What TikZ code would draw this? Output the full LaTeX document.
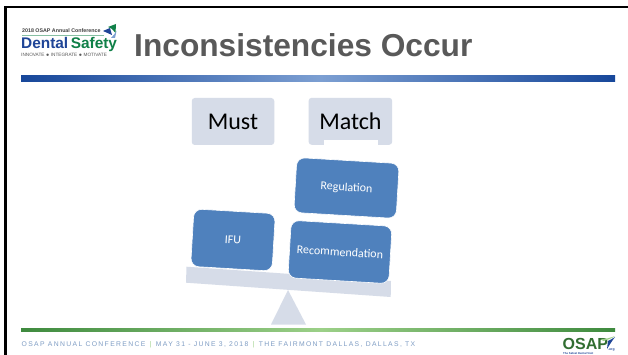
\documentclass[tikz,border=0pt]{standalone}
\usepackage{fontspec}
\setmainfont{Carlito}
\newfontfamily\arial{Liberation Sans}
\newfontfamily\arialwide[LetterSpace=20]{Liberation Sans}
\definecolor{pale}{HTML}{D6DCE8}
\definecolor{steel}{HTML}{4F81BD}
\definecolor{blueA}{HTML}{17479A}
\definecolor{blueB}{HTML}{7C9FD2}
\definecolor{greenA}{HTML}{3E8A3E}
\definecolor{greenB}{HTML}{9CD088}
\definecolor{titlegray}{HTML}{595959}
\definecolor{foot}{HTML}{7F9DC4}
\definecolor{dsblue}{HTML}{1F4597}
\definecolor{dsgreen}{HTML}{108048}
\tikzset{
  x=1pt,y=-1pt,
  wordbox/.style={draw=none,fill=pale,rounded corners=3pt,minimum width=#1,minimum height=47pt,inner sep=0pt,font=\fontsize{24}{28}\selectfont,text=black},
  weight/.style={draw=white,line width=0.6pt,fill=steel,rounded corners=8pt,inner sep=0pt,text=white,font=\fontsize{12}{14}\selectfont},
  footer/.style={inner sep=0pt,anchor=west,text=foot,font=\arialwide\fontsize{6.8}{8}\selectfont},
}
\begin{document}
\begin{tikzpicture}
\useasboundingbox (0,0) rectangle (628,355);
\fill[white] (0,0) rectangle (628,355);
% frame
\fill[black] (4,6) rectangle (628,8);
\fill[black] (4,6) rectangle (6.5,355);
% title
\node[inner sep=0pt,anchor=west,text=titlegray,font=\arial\bfseries\fontsize{31.7}{36}\selectfont] (title) at (134,45) {Inconsistencies Occur};
% logo
\node[inner sep=0pt,anchor=west,font=\arial\bfseries\fontsize{5.3}{6}\selectfont,text=black!75] (logotop) at (22,30.5) {2018 OSAP Annual Conference};
\draw[dsgreen!50,line width=0.4pt] (22,35) -- (104,35);
\node[inner sep=0pt,anchor=west,font=\arial\bfseries\fontsize{15.4}{17}\selectfont] (logomain) at (21,45) {\textcolor{dsblue}{Dental}\textcolor{dsgreen}{\,Safety}};
\node[inner sep=0pt,anchor=west,font=\arial\fontsize{4.7}{6}\selectfont,text=black!65] (logosub) at (21,54.7) {INNOVATE $\bullet$ INTEGRATE $\bullet$ MOTIVATE};
\fill[dsgreen] (108,27) -- (116,24) -- (115.5,33) -- (112,29) -- cycle;
\fill[dsblue] (103,31) -- (110,28) -- (112,35) -- cycle;
\fill[blueB] (111,38) -- (114.5,34) -- (116.5,31) -- (115,38) -- cycle;
% top bar
\shade[left color=blueA,right color=blueB] (21,75.5) rectangle (321,82);
\shade[left color=blueB,right color=blueA] (321,75.5) rectangle (615,82);
% words
\node[wordbox=82.5pt] (must) at (233,121.5) {Must};
\node[wordbox=83.5pt] (match) at (350.4,121.3) {Match};
\fill[white] (324,140) rectangle (378,146);
% triangle and beam
\fill[pale] (288,290) -- (306,324.5) -- (271,324.5) -- cycle;
\fill[pale] (186.5,266.7) -- (391,281) -- (390.7,297) -- (186,282.7) -- cycle;
% weights
\node[weight,minimum width=81.5pt,minimum height=57.5pt,rotate=-3.4] (ifu) at (233,240) {IFU};
\node[weight,minimum width=101pt,minimum height=57.5pt,rotate=-3.4] (rec) at (340,252) {Recommendation};
\node[weight,minimum width=102.5pt,minimum height=55pt,rotate=-3.4] (reg) at (346.5,188) {Regulation};
% green bar
\shade[left color=greenA,right color=greenB] (21,328) rectangle (321,331);
\shade[left color=greenB,right color=greenA] (321,328) rectangle (615,331);
% footer
\node[footer] (foot) at (21.5,345) {OSAP ANNUAL CONFERENCE \,\textcolor{greenB}{\textbar}\, MAY 31 - JUNE 3, 2018 \,\textcolor{greenB}{\textbar}\, THE FAIRMONT DALLAS, DALLAS, TX};
% OSAP logo
\node[inner sep=0pt,anchor=west,text=greenA!80!black,font=\arial\bfseries\fontsize{16}{18}\selectfont] (osap) at (562.5,343.8) {OSAP};
\fill[greenB] (601,339) .. controls (606,339) and (610,338) .. (615,336) .. controls (611,339) and (607,340) .. (603,341) -- cycle;
\fill[dsblue] (608,341) .. controls (610,340) and (612,339) .. (615,337) .. controls (612,341) and (610,344) .. (607,349) -- cycle;
\node[inner sep=0pt,anchor=west,text=dsblue,font=\arial\bfseries\fontsize{3.4}{4}\selectfont] (org) at (608,350) {.org};
\node[inner sep=0pt,anchor=west,text=dsblue,font=\arial\bfseries\fontsize{2.8}{3.2}\selectfont] (tag) at (563,353.4) {The Safest Dental Visit};
\end{tikzpicture}
\end{document}
